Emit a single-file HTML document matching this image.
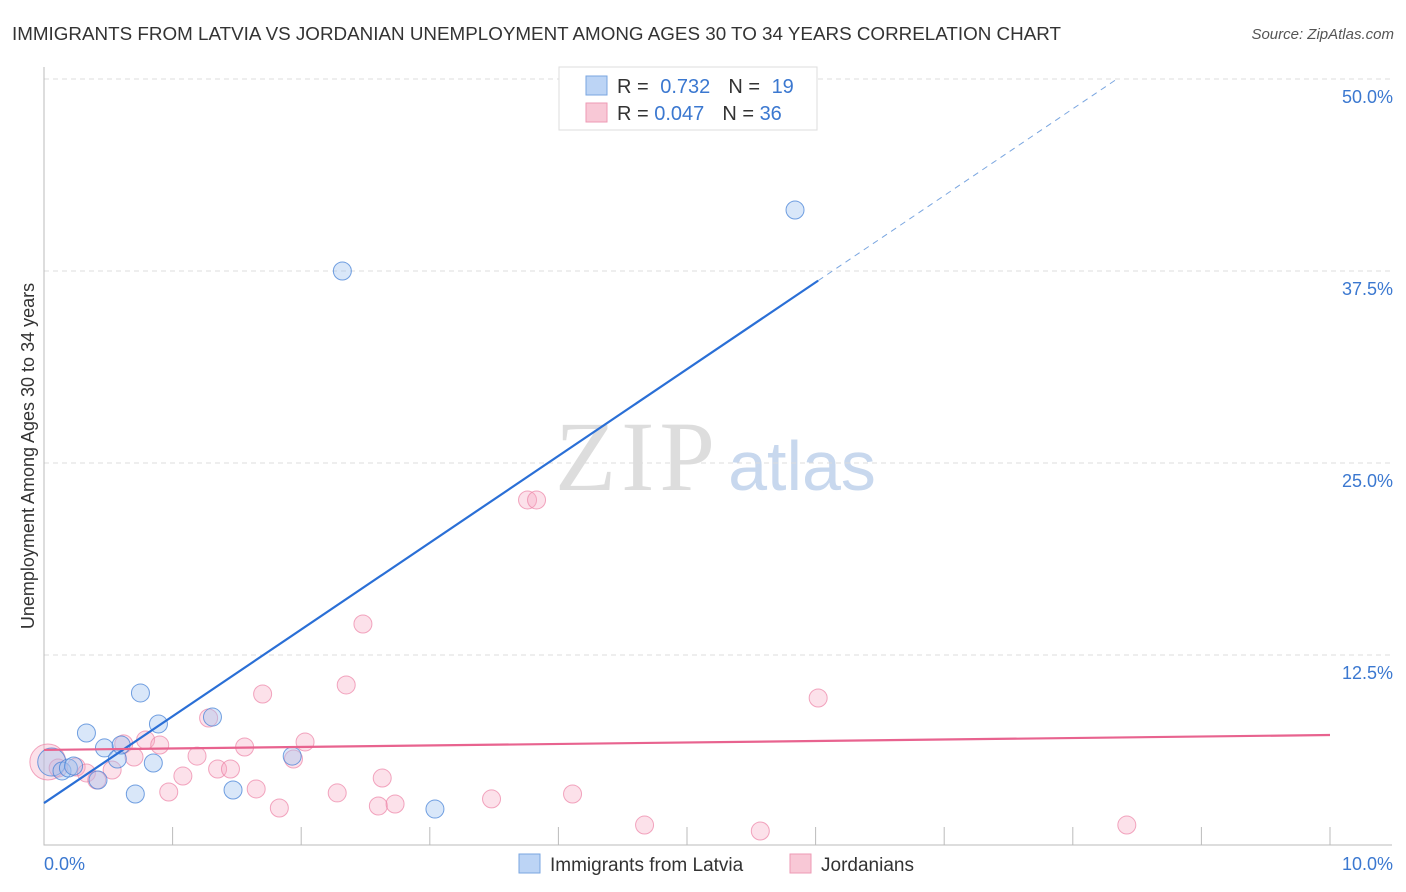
<!DOCTYPE html>
<html><head><meta charset="utf-8"><style>
body{margin:0;background:#fff;font-family:"Liberation Sans",sans-serif;}
svg{display:block}
</style></head><body>
<svg id="chart" width="1406" height="892">
<text x="12" y="40" font-size="18" fill="#333" textLength="1049" lengthAdjust="spacingAndGlyphs">IMMIGRANTS FROM LATVIA VS JORDANIAN UNEMPLOYMENT AMONG AGES 30 TO 34 YEARS CORRELATION CHART</text>
<text x="1394" y="39" font-size="15" fill="#555" font-style="italic" text-anchor="end">Source: ZipAtlas.com</text>
<text x="635" y="490" font-size="100" fill="#ddd" font-family="Liberation Serif,serif" text-anchor="middle" textLength="160">ZIP</text>
<text x="802" y="490" font-size="70" fill="#c8d8ee" text-anchor="middle">atlas</text>
<text transform="translate(34,456) rotate(-90)" font-size="18" fill="#333" text-anchor="middle">Unemployment Among Ages 30 to 34 years</text>
<g id="grid"></g><g id="pts"></g><g id="lines"></g>
<g>
<rect x="559" y="67" width="258" height="63" fill="#fff" stroke="#ddd"/>
<rect x="586" y="76" width="21" height="19" fill="#bcd4f5" stroke="#7aa6e0"/>
<text x="617" y="93" font-size="20" fill="#333">R = <tspan fill="#3b78d0" dx="6">0.732</tspan><tspan dx="18" fill="#333">N = </tspan><tspan fill="#3b78d0" dx="6">19</tspan></text>
<rect x="586" y="103" width="21" height="19" fill="#f8c8d6" stroke="#ee9ab4"/>
<text x="617" y="120" font-size="20" fill="#333">R = <tspan fill="#3b78d0">0.047</tspan><tspan dx="18" fill="#333">N = </tspan><tspan fill="#3b78d0">36</tspan></text>
</g>
<g>
<rect x="519" y="854" width="21" height="19" fill="#bcd4f5" stroke="#7aa6e0"/>
<text x="550" y="871" font-size="19" fill="#333">Immigrants from Latvia</text>
<rect x="790" y="854" width="21" height="19" fill="#f8c8d6" stroke="#ee9ab4"/>
<text x="821" y="871" font-size="19" fill="#333">Jordanians</text>
</g>
</svg>
<script>
const yTicks=[12.5,25,37.5,50];
const xTickLabels=["0.0%","10.0%"];
const blueX=[0.06,0.14,0.19,0.23,0.33,0.42,0.47,0.57,0.60,0.75,0.71,0.85,0.89,1.31,1.47,1.93,2.32,3.04,5.84];
const blueY=[5.53,4.95,5.14,5.27,7.42,4.36,6.45,5.73,6.64,10.03,3.45,5.47,8.01,8.46,3.71,5.92,37.5,2.47,41.47];
const pinkX=[0.03,0.11,0.25,0.33,0.41,0.53,0.62,0.70,0.79,0.90,0.97,1.08,1.19,1.28,1.35,1.45,1.56,1.65,1.70,1.83,1.94,2.03,2.28,2.35,2.48,2.60,2.63,2.73,3.48,3.76,3.83,4.11,4.67,5.57,6.02,8.42];
const pinkY=[5.53,5.14,5.21,4.82,4.36,5.01,6.71,5.86,6.97,6.64,3.58,4.62,5.92,8.40,5.08,5.08,6.51,3.78,9.96,2.54,5.73,6.84,3.52,10.55,14.52,2.67,4.49,2.80,3.13,22.59,22.59,3.45,1.43,1.04,9.70,1.43];
const blueLine=[2.86,5.65]; // intercept, slope
const pinkLine=[6.32,0.097];
const sx=v=>44+v*128.6, sy=v=>847-v*15.36;
const NS="http://www.w3.org/2000/svg";
function mk(tag,attrs,parent){const e=document.createElementNS(NS,tag);for(const k in attrs)e.setAttribute(k,attrs[k]);parent.appendChild(e);return e;}
const g=document.getElementById('grid');
yTicks.forEach(t=>{
 const l=mk('line',{x1:44,x2:1392,y1:sy(t),y2:sy(t),stroke:'#ddd','stroke-dasharray':'5,4'},g);
 
 
 const tx=mk('text',{x:1393,y:sy(t)+24,'font-size':18,fill:'#3b78d0','text-anchor':'end'},g);
 tx.textContent=t.toFixed(1)+'%';
 
 
});
const ax=mk('path',{d:'M44 67V845H1392',stroke:'#bbb',fill:'none'},g);


for(let i=0;i<=10;i++){
 const t=mk('line',{x1:sx(i),x2:sx(i),y1:827,y2:845,stroke:'#bbb'},g);
 
 
}
[[0,44,'start'],[10,1393,'end']].forEach((d,i)=>{
 const t=mk('text',{x:d[1],y:870,'font-size':18,fill:'#3b78d0','text-anchor':d[2]},g);
 t.textContent=xTickLabels[i];
 
 
});
const p=document.getElementById('pts');
pinkX.forEach((x,i)=>{
 const c=mk('circle',{cx:sx(x),cy:sy(pinkY[i]),r:i==0?18:9,fill:'rgba(246,170,195,0.35)',stroke:'rgba(236,130,165,0.7)'},p);
 
 
});
blueX.forEach((x,i)=>{
 const c=mk('circle',{cx:sx(x),cy:sy(blueY[i]),r:i==0?14:9,fill:'rgba(160,195,240,0.4)',stroke:'rgba(70,130,215,0.75)'},p);
 
 
});
const L=document.getElementById('lines');
const bx2=6.02, bx3=(50-blueLine[0])/blueLine[1];
let l1=mk('line',{x1:sx(0),y1:sy(blueLine[0]),x2:sx(bx2),y2:sy(blueLine[0]+blueLine[1]*bx2),stroke:'#2a6fd6','stroke-width':2.2},L);


let l2=mk('line',{x1:sx(bx2),y1:sy(blueLine[0]+blueLine[1]*bx2),x2:sx(bx3),y2:sy(50),stroke:'#7aa6e0','stroke-width':1,'stroke-dasharray':'6,5'},L);


let l3=mk('line',{x1:sx(0),y1:sy(pinkLine[0]),x2:sx(10),y2:sy(pinkLine[0]+pinkLine[1]*10),stroke:'#e8638f','stroke-width':2.2},L);


</script>
</body></html>
